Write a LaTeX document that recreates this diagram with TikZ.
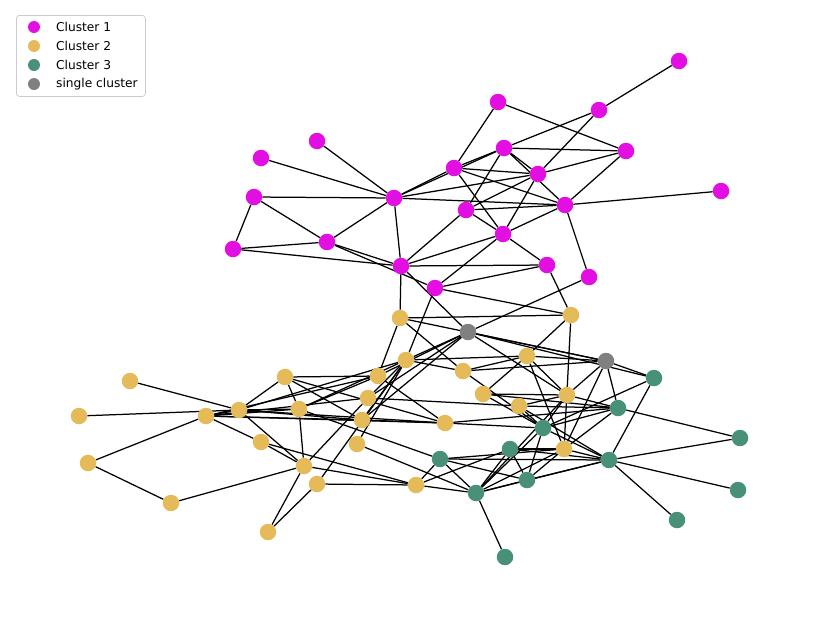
\documentclass[tikz,border=0pt]{standalone}
\usepackage{fontspec}
\setmainfont{DejaVu Sans}
\usetikzlibrary{backgrounds}
\definecolor{cA}{RGB}{226,14,226}
\definecolor{cB}{RGB}{228,187,88}
\definecolor{cC}{RGB}{72,145,120}
\definecolor{cG}{RGB}{128,128,128}
\tikzset{
  vtx/.style={circle,inner sep=0pt,minimum size=16.5pt,draw=none},
  pk/.style={vtx,fill=cA},
  yl/.style={vtx,fill=cB},
  gr/.style={vtx,fill=cC},
  gy/.style={vtx,fill=cG},
  edge/.style={black,line width=1.25pt},
  lgmark/.style={circle,inner sep=0pt,minimum size=12pt,draw=none},
  lgtext/.style={anchor=west,inner sep=0pt,font=\fontsize{12.2}{14}\selectfont}
}
\begin{document}
\begin{tikzpicture}[x=1pt,y=-1pt]
\useasboundingbox (0,0) rectangle (819,619);
% Cluster 1
\node[pk] (p1) at (679,61) {};
\node[pk] (p2) at (498,102) {};
\node[pk] (p3) at (599,110) {};
\node[pk] (p4) at (317,141) {};
\node[pk] (p5) at (504,148) {};
\node[pk] (p6) at (626,151) {};
\node[pk] (p7) at (261,158) {};
\node[pk] (p8) at (454,168) {};
\node[pk] (p9) at (538,174) {};
\node[pk] (p10) at (721,191) {};
\node[pk] (p11) at (254,197) {};
\node[pk] (p12) at (394,198) {};
\node[pk] (p13) at (466,210) {};
\node[pk] (p14) at (565,205) {};
\node[pk] (p15) at (503,234) {};
\node[pk] (p16) at (233,249) {};
\node[pk] (p17) at (327,242) {};
\node[pk] (p18) at (401,266) {};
\node[pk] (p19) at (547,265) {};
\node[pk] (p20) at (589,277) {};
\node[pk] (p21) at (435,288) {};
% single
\node[gy] (g1) at (468,332) {};
\node[gy] (g2) at (606,361) {};
% Cluster 2
\node[yl] (y1) at (400,318) {};
\node[yl] (y2) at (571,315) {};
\node[yl] (y3) at (406,360) {};
\node[yl] (y4) at (527,356) {};
\node[yl] (y5) at (463,371) {};
\node[yl] (y6) at (378,376) {};
\node[yl] (y7) at (285,377) {};
\node[yl] (y8) at (130,381) {};
\node[yl] (y9) at (483,394) {};
\node[yl] (y10) at (567,395) {};
\node[yl] (y11) at (368,398) {};
\node[yl] (y12) at (519,406) {};
\node[yl] (y13) at (79,416) {};
\node[yl] (y14) at (206,416) {};
\node[yl] (y15) at (239,410) {};
\node[yl] (y16) at (299,409) {};
\node[yl] (y17) at (362,420) {};
\node[yl] (y18) at (445,423) {};
\node[yl] (y19) at (261,442) {};
\node[yl] (y20) at (357,444) {};
\node[yl] (y21) at (564,449) {};
\node[yl] (y22) at (88,463) {};
\node[yl] (y23) at (304,466) {};
\node[yl] (y24) at (317,484) {};
\node[yl] (y25) at (416,485) {};
\node[yl] (y26) at (171,503) {};
\node[yl] (y27) at (268,532) {};
% Cluster 3
\node[gr] (c1) at (654,378) {};
\node[gr] (c2) at (618,408) {};
\node[gr] (c3) at (740,438) {};
\node[gr] (c4) at (543,428) {};
\node[gr] (c5) at (510,449) {};
\node[gr] (c6) at (440,459) {};
\node[gr] (c7) at (609,460) {};
\node[gr] (c8) at (738,490) {};
\node[gr] (c9) at (527,480) {};
\node[gr] (c10) at (476,493) {};
\node[gr] (c11) at (677,520) {};
\node[gr] (c12) at (505,557) {};
\begin{pgfonlayer}{background}
\foreach \a/\b in {p1/p3,p2/p6,p2/p8,p3/p5,p3/p9,p5/p8,p5/p6,p5/p9,p5/p14,p5/p13,
  p6/p9,p6/p14,p8/p9,p8/p14,p8/p15,p8/p12,p5/p12,p9/p12,p12/p14,p9/p13,p9/p15,
  p13/p14,p13/p15,p14/p15,p14/p10,p14/p20,p4/p12,p7/p12,p11/p12,p11/p16,p11/p17,
  p16/p17,p16/p18,p17/p12,p17/p18,p17/p21,p12/p18,p13/p18,p15/p18,p15/p21,p15/p19,
  p18/p19,p21/p19,p18/y1,p18/g1,p21/y2,p19/y2,p20/g1,p21/y3}
  \draw[edge] (\a) -- (\b);
\foreach \a/\b in {y1/y2,y1/y6,y1/g2,y1/y5,g1/g2,g1/c1,g1/y3,g1/y6,g1/y11,g1/y17,g1/y10,
  y2/y4,y4/y9,y2/y21,y3/y4,y3/y5,y4/y5,y4/y10,y4/y21,y4/g2,y5/g2,y5/c4,
  y3/y15,y3/y16,y3/y17,y3/y20,y3/y24,y3/y11,
  y6/y7,y6/y14,y6/y16,y6/y18,y7/y16,y7/y15,y7/y17,y7/y18,
  y8/y15,y13/y15,y14/y22,y22/y26,y26/y23,y14/y19,y14/y15,y14/y16,y14/y17,y14/y18,y14/y11,
  y15/y16,y15/y17,y15/y18,y15/y23,y16/y23,y16/c6,
  y19/y23,y19/y25,y23/y11,y23/y25,y24/y25,y24/y27,y23/y27,
  y20/c10,y25/c6,y25/c10,y25/c5,
  c6/c7,c6/c9,c6/c10,c6/y21,y17/y18,y18/c4,y18/c2,y11/y12,
  c10/c12,c10/c5,c10/c9,c10/c7,c10/c4,c10/y21,c10/y10,
  c9/c7,c9/c5,c9/c4,c5/c7,c5/y21,c4/c7,c4/y12,c4/y10,c4/c1,c4/c2,
  y21/c7,y21/c9,y21/c2,y21/g2,y9/y10,y9/c2,y9/c4,y12/c2,y12/y10,y12/c7,
  y10/g2,y10/c2,c7/c1,c7/c3,c7/c8,c7/c11,c2/c3,c2/g2,c1/g2}
  \draw[edge] (\a) -- (\b);
\end{pgfonlayer}
% legend
\node[draw=black!20,line width=0.8pt,rounded corners=3pt,minimum width=129pt,minimum height=81pt,inner sep=0pt,anchor=north west] (lg) at (16,15) {};
\node[lgmark,fill=cA] (m1) at (34,27) {};
\node[lgmark,fill=cB] (m2) at (34,46) {};
\node[lgmark,fill=cC] (m3) at (34,65) {};
\node[lgmark,fill=cG] (m4) at (34,84) {};
\node[lgtext] (t1) at (56,27) {Cluster 1};
\node[lgtext] (t2) at (56,46) {Cluster 2};
\node[lgtext] (t3) at (56,65) {Cluster 3};
\node[lgtext] (t4) at (56,84) {single cluster};
\end{tikzpicture}
\end{document}
